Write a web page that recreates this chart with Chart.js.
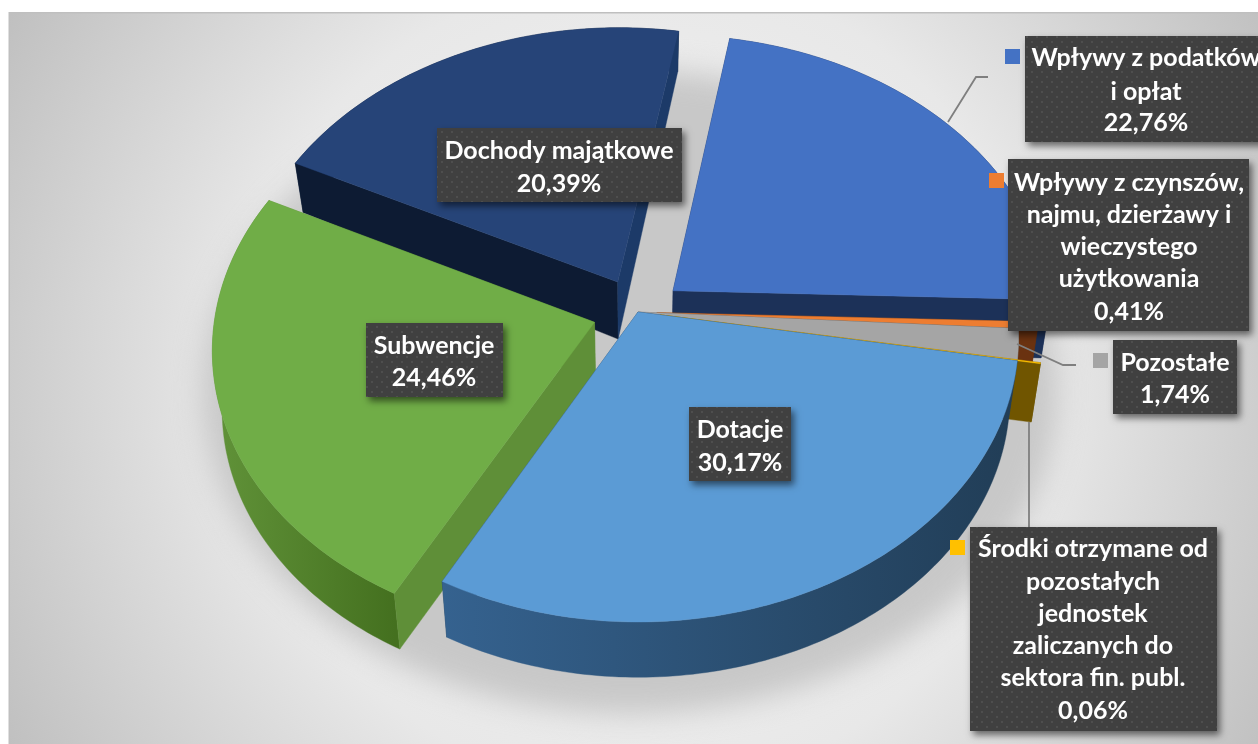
<!DOCTYPE html>
<html lang="pl"><head><meta charset="utf-8">
<style>html,body{margin:0;padding:0;background:#fff}canvas{display:block}</style>
<script src="https://cdn.jsdelivr.net/npm/chart.js@4/dist/chart.umd.js"></script>
</head><body>
<canvas id="c" width="1258" height="744"></canvas>
<script>
const categories = ["Wpływy z podatków i opłat","Wpływy z czynszów, najmu, dzierżawy i wieczystego użytkowania","Pozostałe","Środki otrzymane od pozostałych jednostek zaliczanych do sektora fin. publ.","Dotacje","Subwencje","Dochody majątkowe"];
const shares = [22.76,0.41,1.74,0.06,30.17,24.46,20.39];
const topColors = ["#4472c4","#ed7d31","#a5a5a5","#ffc000","#5b9bd5","#70ad47","#264478"];
const explode = [0.12,0.05,0,0.06,0,0.12,0.12];

// drawing style, not data
const wallLeft  = ["#1c3158","#6a3210","#5f5f5f","#705500","#35628f","#619339","#10203d"];
const wallRight = ["#1c3158","#6a3210","#5f5f5f","#705500","#213d56","#44701f","#10203d"];
const faceStart = ["#1c3158","#6a3210","#5f5f5f","#705500","#233f59","#5f8f38","#0d1b33"];
const faceEnd   = ["#1c3158","#6a3210","#5f5f5f","#705500","#233f59","#5f8f38","#1c3a68"];
const paintOrder = [6,0,1,2,3,5,4];
const view = {x:638,y:312,a:379,e:282.2,h:-0.0896};

function project(wx,wy,bottom){
  const den = 1+view.h*wy, px = view.a*wx/den, py = view.e*wy/den;
  if(!bottom) return [view.x+px, view.y+py];
  const d = py>0 ? 59-0.012*py : 59+0.066*py;
  return [view.x+px*0.977, view.y+py+d];
}
function poly(ctx,pts,fill){
  ctx.beginPath();
  pts.forEach((p,i)=> i?ctx.lineTo(p[0],p[1]):ctx.moveTo(p[0],p[1]));
  ctx.closePath();
  ctx.fillStyle=fill; ctx.fill();
  ctx.strokeStyle=fill; ctx.lineWidth=0.4; ctx.stroke();
}
// a radial face shows when moving straight down leaves the wedge
function faceVisible(apex,edge,inner){
  const ex=edge[0]-apex[0], ey=edge[1]-apex[1];
  const side=ex*(inner[1]-apex[1])-ey*(inner[0]-apex[0]);
  const down=ex*1;
  return side*down<0;
}
const pie3d = {
  id:'pie3d',
  beforeDraw(chart){
    const ctx=chart.ctx; ctx.save();
    ctx.fillStyle='#fff'; ctx.fillRect(0,0,1258,744);
    ctx.beginPath(); ctx.rect(9,13,1249,731); ctx.clip();
    const g=ctx.createRadialGradient(640,380,120,640,380,760);
    g.addColorStop(0,'#f2f2f2'); g.addColorStop(0.45,'#e8e8e8'); g.addColorStop(1,'#bcbcbc');
    ctx.fillStyle=g; ctx.fillRect(9,13,1249,731);
    ctx.filter='blur(14px)';
    ctx.fillStyle='#c8c8c8';
    ctx.beginPath(); ctx.ellipse(630,392,428,322,0,0,Math.PI*2); ctx.fill();
    ctx.filter='none';
    ctx.restore();
    ctx.fillStyle='#bfbfbf'; ctx.fillRect(9,12,1249,1.5); ctx.fillRect(8.5,12,1.5,732);
  },
  beforeDatasetsDraw(chart){
    const ctx=chart.ctx, arcs=chart.getDatasetMeta(0).data;
    paintOrder.forEach(i=>{
      const arc=arcs[i], s=arc.startAngle, t=arc.endAngle;
      const mid=(s+t)/2, ox=explode[i]*Math.cos(mid), oy=explode[i]*Math.sin(mid);
      const n=Math.max(2,Math.ceil((t-s)*60)), rim=[];
      for(let k=0;k<=n;k++){const a=s+(t-s)*k/n; rim.push([ox+Math.cos(a),oy+Math.sin(a)]);}
      const apexT=project(ox,oy,false), apexB=project(ox,oy,true);
      const topRim=rim.map(p=>project(p[0],p[1],false)), botRim=rim.map(p=>project(p[0],p[1],true));
      const inner=topRim[Math.floor(n/2)];
      const faces=[
        {pts:[apexT,topRim[0],botRim[0],apexB],col:faceStart[i],show:faceVisible(apexT,topRim[0],inner)},
        {pts:[apexT,topRim[n],botRim[n],apexB],col:faceEnd[i],show:faceVisible(apexT,topRim[n],inner)}
      ];
      faces.filter(f=>!f.show).forEach(f=>poly(ctx,f.pts,f.col));
      const xs=topRim.map(p=>p[0]), grad=ctx.createLinearGradient(Math.min(...xs),0,Math.max(...xs)+1,0);
      grad.addColorStop(0,wallLeft[i]); grad.addColorStop(1,wallRight[i]);
      poly(ctx,topRim.concat(botRim.slice().reverse()),grad);
      faces.filter(f=>f.show).forEach(f=>poly(ctx,f.pts,f.col));
      poly(ctx,[apexT].concat(topRim),arc.options.backgroundColor);
    });
    return false;
  },
  afterDraw(chart){
    const ctx=chart.ctx;
    // leader lines
    ctx.strokeStyle='#7f7f7f'; ctx.lineWidth=1.8;
    [[[948,122],[976,77],[988,77]],[[1017,344],[1063,365],[1076,365]],[[1029,422],[1029,527]]].forEach(l=>{
      ctx.beginPath(); l.forEach((p,i)=>i?ctx.lineTo(p[0],p[1]):ctx.moveTo(p[0],p[1])); ctx.stroke();
    });
    // dotted label fill
    const tile=document.createElement('canvas'); tile.width=10; tile.height=10;
    const t=tile.getContext('2d');
    t.fillStyle='#404040'; t.fillRect(0,0,10,10);
    t.fillStyle='#4e4e4e'; t.fillRect(1,1,2,2); t.fillRect(6,6,2,2);
    const pat=ctx.createPattern(tile,'repeat');
    const pct=v=>v.toFixed(2).replace('.',',')+'%';
    const labels=[
      {i:0,box:[1025,36,242,106],cx:1146,key:[1005,49],lines:["Wpływy z podatków","i opłat"],ys:[58,92,123]},
      {i:1,box:[1008,159,241,172],cx:1129,key:[989,173],lines:["Wpływy z czynszów,","najmu, dzierżawy i","wieczystego","użytkowania"],ys:[183,215,247,279,312]},
      {i:2,box:[1113,340,124,74],cx:1175,key:[1093,353],lines:["Pozostałe"],ys:[363,395]},
      {i:3,box:[970,527,247,204],cx:1093,key:[950,540],lines:["Środki otrzymane od","pozostałych","jednostek","zaliczanych do","sektora fin. publ."],ys:[549,582,614,646,678,711]},
      {i:4,box:[689,407,102,74],cx:740,key:[669,420],lines:["Dotacje"],ys:[430,463]},
      {i:5,box:[366,323,137,74],cx:434,key:[346,336],lines:["Subwencje"],ys:[346,378]},
      {i:6,box:[437,128,245,74],cx:559,key:[417,141],lines:["Dochody majątkowe"],ys:[151,184]}
    ];
    labels.forEach(L=>{
      const [x,y,w,h]=L.box;
      ctx.save();
      ctx.shadowColor='rgba(0,0,0,0.55)'; ctx.shadowBlur=7; ctx.shadowOffsetX=3; ctx.shadowOffsetY=4;
      ctx.fillStyle='#404040'; ctx.fillRect(x,y,w,h);
      ctx.restore();
      ctx.fillStyle=pat; ctx.fillRect(x,y,w,h);
      ctx.fillStyle=topColors[L.i]; ctx.fillRect(L.key[0],L.key[1],15,15);
      ctx.fillStyle='#fff'; ctx.font='700 25px Lato, sans-serif'; ctx.textAlign='center'; ctx.textBaseline='middle';
      L.lines.concat([pct(shares[L.i])]).forEach((s,k)=>ctx.fillText(s,L.cx,L.ys[k]));
    });
  }
};
new Chart(document.getElementById('c'),{
  type:'pie',
  data:{labels:categories,datasets:[{data:shares,backgroundColor:topColors,borderWidth:0}]},
  options:{
    responsive:false,animation:false,rotation:9.9,
    plugins:{legend:{display:false},tooltip:{enabled:false}}
  },
  plugins:[pie3d]
});
</script>
</body></html>
